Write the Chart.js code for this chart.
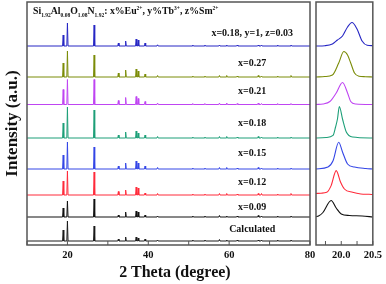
<!DOCTYPE html>
<html>
<head>
<meta charset="utf-8">
<script src="https://cdn.jsdelivr.net/npm/chart.js@4"></script>
<style>
    body { margin: 0; background: #fff; }
    #wrap { position: relative; width: 386px; height: 284px; overflow: hidden; font-family: "Liberation Serif", "DejaVu Serif", serif; color: #111; }
    #mainChart { position: absolute; left: 0; top: 0; }
    #zoomChart { position: absolute; left: 300px; top: 0; }
    #formula { position: absolute; left: 33px; top: 5px; font-weight: bold; font-size: 9.8px; white-space: nowrap; line-height: 12px; }
    #formula sub, #formula sup { font-size: 5.5px; line-height: 0; }
    #xTitle { position: absolute; left: 0; width: 350px; top: 263px; text-align: center; font-weight: bold; font-size: 16px; white-space: nowrap; }
</style>
</head>
<body>
<div id="wrap">
    <canvas id="zoomChart" width="86" height="284"></canvas>
    <canvas id="mainChart" width="320" height="284"></canvas>
    <div id="formula">Si<sub>1.92</sub>Al<sub>0.08</sub>O<sub>1.08</sub>N<sub>1.92</sub>: x%Eu<sup>2+</sup>, y%Tb<sup>3+</sup>, z%Sm<sup>2+</sup></div>
    <div id="xTitle">2 Theta (degree)</div>
</div>
<script>
// samples, bottom to top
const sampleNames = ["Calculated", "x=0.09", "x=0.12", "x=0.15", "x=0.18", "x=0.21", "x=0.27", "x=0.18, y=1, z=0.03"];
const sampleColors = ["#1a1a1a", "#111111", "#ff2a3a", "#3446e6", "#1d9f78", "#bf45f2", "#7b8c08", "#2626c4"];
const stackOffsets = [4, 28, 50, 76, 107, 140.5, 168, 199];

// reflection positions (2 theta, degree)
const peakPos = [18.95, 20.0, 26.6, 32.6, 34.4, 37.0, 37.5, 39.2, 42.3, 51.0, 54.0, 57.6, 59.4, 62.0, 67.2, 68.0, 72.0, 75.3];

// peak intensities (a.u.) for each sample
const intCalc = [11, 20, 15, 2, 4, 4, 3, 2, 1, 1, 1, 1.5, 1, 1, 1, 1, 1, 1];
const int009  = [9, 16, 18, 2, 5, 6, 5, 2, 1, 1, 1, 1.5, 1, 1, 1.5, 1, 1, 1];
const int012  = [14, 24, 23, 3.5, 5, 8, 7, 2, 1.5, 1, 1, 1.5, 1.5, 1, 1.5, 1.5, 1, 1.5];
const int015  = [14, 27, 22, 3, 6, 8, 6, 3, 1.5, 1, 1, 1.5, 1.5, 1, 1.5, 1, 1, 1];
const int018  = [15, 31, 28, 3, 6, 7, 5, 3, 1.5, 1, 1, 1.5, 1.5, 1, 1.5, 1, 1, 1];
const int021  = [15, 25, 25, 4, 7, 8, 6, 3, 1.5, 1, 1, 1.5, 1.5, 1, 1.5, 1, 1, 1];
const int027  = [14, 26, 22, 4, 7, 8, 6, 3, 1.5, 1, 1, 1.5, 1.5, 1, 1.5, 1, 1, 1.5];
const intTri  = [11, 23, 21, 3, 5, 7, 6, 3, 1.2, 1, 1, 1, 1, 1, 1, 1, 1, 1];
const mainIntensities = [intCalc, int009, int012, int015, int018, int021, int027, intTri];

// zoom around 20 degree: [2 theta, intensity]
const zoom009 = [[19.6, 0.3], [19.64, 1], [19.71, 4.5], [19.84, 16.5], [19.92, 9], [20.0, 3], [20.13, 1.5], [20.33, 1], [20.5, 0]];
const zoom012 = [[19.6, 1.5], [19.68, 1.8], [19.77, 2.7], [19.84, 9.4], [19.92, 24.4], [19.99, 12.7], [20.05, 6], [20.18, 2.7], [20.31, 1], [20.44, 0.7], [20.5, 0.5]];
const zoom015 = [[19.6, 0], [19.79, 2], [19.87, 8.3], [19.96, 26.7], [20.02, 17], [20.1, 5], [20.21, 2], [20.39, 0.5], [20.5, 0]];
const zoom018 = [[19.6, 0], [19.76, 0.5], [19.87, 2.6], [19.91, 11], [19.94, 19], [19.97, 31.5], [20.02, 19], [20.08, 6], [20.18, 1], [20.5, 0]];
const zoom021 = [[19.6, 0], [19.71, 0.5], [19.82, 3], [19.92, 11.5], [20.02, 22], [20.1, 11.5], [20.15, 3], [20.23, 0.5], [20.5, 0]];
const zoom027 = [[19.6, 0], [19.74, 0.5], [19.86, 2], [19.96, 14], [20.04, 25.5], [20.1, 22], [20.15, 14], [20.21, 4], [20.28, 0.8], [20.38, 0.3], [20.5, 0]];
const zoomTri = [[19.6, 0], [19.74, 0.3], [19.86, 2], [19.94, 6], [20.02, 10], [20.1, 19], [20.17, 23.5], [20.25, 17], [20.33, 5], [20.41, 0.7], [20.5, 0.3]];
const zoomProfiles = [null, zoom009, zoom012, zoom015, zoom018, zoom021, zoom027, zoomTri];

const serif = "'Liberation Serif', 'DejaVu Serif', serif";

// turn a peak list into a narrow stick-like pattern
function buildPattern(intensities, offset) {
    const pts = [{ x: 10, y: offset }];
    peakPos.forEach((p, i) => {
        pts.push({ x: p - 0.15, y: offset });
        pts.push({ x: p, y: offset + intensities[i] });
        pts.push({ x: p + 0.15, y: offset });
    });
    pts.push({ x: 80, y: offset });
    return pts;
}

// box + inward tick marks
const framePlugin = {
    id: "frame",
    afterDatasetsDraw(chart) {
        const { ctx, chartArea: a } = chart;
        const x = chart.scales.x;
        ctx.save();
        ctx.strokeStyle = "#555";
        ctx.lineWidth = 1.5;
        ctx.strokeRect(a.left, a.top, a.right - a.left, a.bottom - a.top);
        ctx.lineWidth = 1;
        x.ticks.forEach(t => {
            const px = x.getPixelForValue(t.value);
            ctx.beginPath();
            ctx.moveTo(px, a.bottom);
            ctx.lineTo(px, a.bottom - 4);
            ctx.stroke();
        });
        ctx.restore();
    }
};

// sample names above each pattern
const labelLift = [12, 10, 13, 16, 15, 13, 13.5, 13];
const namePlugin = {
    id: "names",
    afterDatasetsDraw(chart) {
        const { ctx } = chart;
        const x = chart.scales.x, y = chart.scales.y;
        ctx.save();
        ctx.font = "bold 10px " + serif;
        ctx.fillStyle = "#111";
        ctx.textAlign = "center";
        ctx.textBaseline = "middle";
        sampleNames.forEach((n, i) => {
            ctx.fillText(n, x.getPixelForValue(65.7), y.getPixelForValue(stackOffsets[i] + labelLift[i]));
        });
        ctx.restore();
    }
};

const mainChart = new Chart(document.getElementById("mainChart"), {
    type: "line",
    data: {
        datasets: sampleNames.map((n, i) => ({
            label: n,
            data: buildPattern(mainIntensities[i], stackOffsets[i]),
            borderColor: sampleColors[i],
            borderWidth: 1,
            pointRadius: 0,
            tension: 0
        }))
    },
    options: {
        responsive: false,
        animation: false,
        layout: { padding: { left: 0, top: 2, right: 10, bottom: 0 } },
        plugins: { legend: { display: false }, tooltip: { enabled: false } },
        scales: {
            x: {
                type: "linear",
                min: 10,
                max: 80,
                afterBuildTicks: s => { s.ticks = [10, 20, 30, 40, 50, 60, 70, 80].map(v => ({ value: v })); },
                ticks: {
                    callback: v => (v % 20 === 0 ? v : ""),
                    font: { family: serif, size: 10.5, weight: "bold" },
                    color: "#111",
                    padding: 4,
                    maxRotation: 0,
                    autoSkip: false
                },
                grid: { display: false, drawTicks: false },
                border: { display: false },
                afterFit: s => { s.height = 39; }
            },
            y: {
                min: 0,
                max: 243,
                ticks: { display: false },
                grid: { display: false, drawTicks: false },
                border: { display: false },
                title: {
                    display: true,
                    text: "Intensity (a.u.)",
                    font: { family: serif, size: 17, weight: "bold" },
                    color: "#111",
                    padding: { top: 2, bottom: 0 }
                },
                afterFit: s => { s.width = 27; }
            }
        }
    },
    plugins: [framePlugin, namePlugin]
});

const zoomChart = new Chart(document.getElementById("zoomChart"), {
    type: "line",
    data: {
        datasets: sampleNames.map((n, i) => ({ n, i })).filter(d => zoomProfiles[d.i]).map(d => ({
            label: d.n,
            data: zoomProfiles[d.i].map(p => ({ x: p[0], y: stackOffsets[d.i] + p[1] })),
            borderColor: sampleColors[d.i],
            borderWidth: 1.1,
            pointRadius: 0,
            cubicInterpolationMode: "monotone"
        }))
    },
    options: {
        responsive: false,
        animation: false,
        layout: { padding: { left: 16, top: 2, right: 12, bottom: 0 } },
        plugins: { legend: { display: false }, tooltip: { enabled: false } },
        scales: {
            x: {
                type: "linear",
                min: 19.6,
                max: 20.5,
                afterBuildTicks: s => { s.ticks = [19.75, 20.0, 20.25, 20.5].map(v => ({ value: v })); },
                ticks: {
                    callback: v => (Math.abs(v * 2 - Math.round(v * 2)) < 1e-6 ? v.toFixed(1) : ""),
                    font: { family: serif, size: 10.5, weight: "bold" },
                    color: "#111",
                    padding: 4,
                    maxRotation: 0,
                    autoSkip: false
                },
                grid: { display: false, drawTicks: false },
                border: { display: false },
                afterFit: s => { s.height = 39; }
            },
            y: { display: false, min: 0, max: 243 }
        }
    },
    plugins: [framePlugin]
});
</script>
</body>
</html>
